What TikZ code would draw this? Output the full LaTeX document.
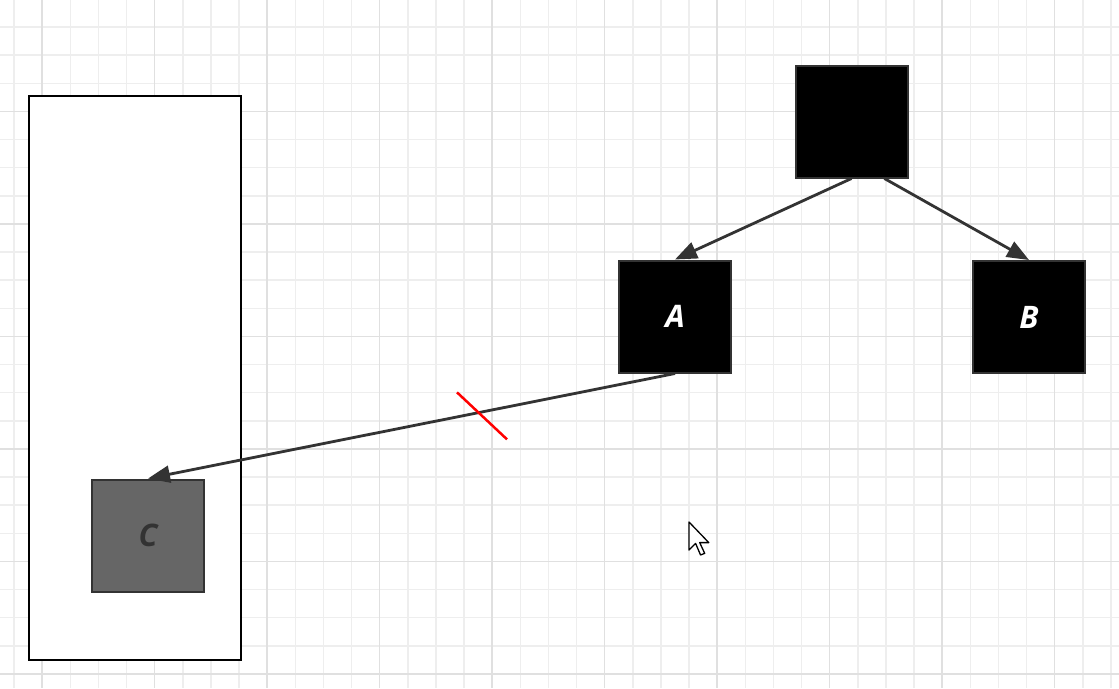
\documentclass[tikz,border=0pt]{standalone}
\usepackage{fontspec}
\newfontfamily\labelfont{Open Sans}
\usetikzlibrary{arrows.meta}
\definecolor{edgegray}{HTML}{333333}
\definecolor{boxgray}{HTML}{666666}
\definecolor{gridminor}{HTML}{EEEEEE}
\definecolor{gridmajor}{HTML}{E0E0E0}

\begin{document}
\begin{tikzpicture}[x=1pt,y=-1pt,
  box/.style = {draw=edgegray, line width=2pt, fill=black, minimum size=112pt, inner sep=0pt,
    text=white, font=\labelfont\bfseries\itshape\fontsize{31}{31}\selectfont},
  link/.style = {draw=edgegray, line width=2.8pt, -{Triangle[length=22pt,width=17pt]}}]
\useasboundingbox (0,0) rectangle (1119,688);
\fill[white] (0,0) rectangle (1119,688);
% background grid
\foreach \i in {0,...,39} \draw[gridminor, line width=1.5pt] ({14+28.125*\i},0) -- ({14+28.125*\i},688);
\foreach \j in {0,...,24} \draw[gridminor, line width=1.5pt] (0,{-1.1+28.125*\j}) -- (1119,{-1.1+28.125*\j});
\foreach \i in {0,...,9} \draw[gridmajor, line width=1.6pt] ({42.1+112.5*\i},0) -- ({42.1+112.5*\i},688);
\foreach \j in {0,...,6} \draw[gridmajor, line width=1.6pt] (0,{-1.1+112.5*\j}) -- (1119,{-1.1+112.5*\j});

\node[draw=black, line width=2pt, fill=white, minimum width=212pt, minimum height=564pt] (frame) at (135,378) {};
\node[box] (top) at (851.5,121.5) {};
\node[box] (A) at (675,316.5) {A};
\node[box] (B) at (1029,317) {B};
\node[box, fill=boxgray, text=edgegray] (C) at (148,535.5) {C};

\draw[link] (top.south) -- (A.north);
\draw[link] (top.-60) -- (B.north);
\draw[link] (A.south) -- coordinate[pos=0.37] (cut) (C.north);
\draw[red, line width=2.5pt] ([shift={(-23,-20)}]cut) -- ([shift={(27,27)}]cut);

% mouse pointer
\draw[black, line width=1.3pt, fill=white, line join=round, shift={(689,522)}, scale=1.65]
  (0,0) -- (0,17) -- (4,13) -- (7,20) -- (9.5,19) -- (6.5,12.5) -- (12,12.5) -- cycle;
\end{tikzpicture}
\end{document}
